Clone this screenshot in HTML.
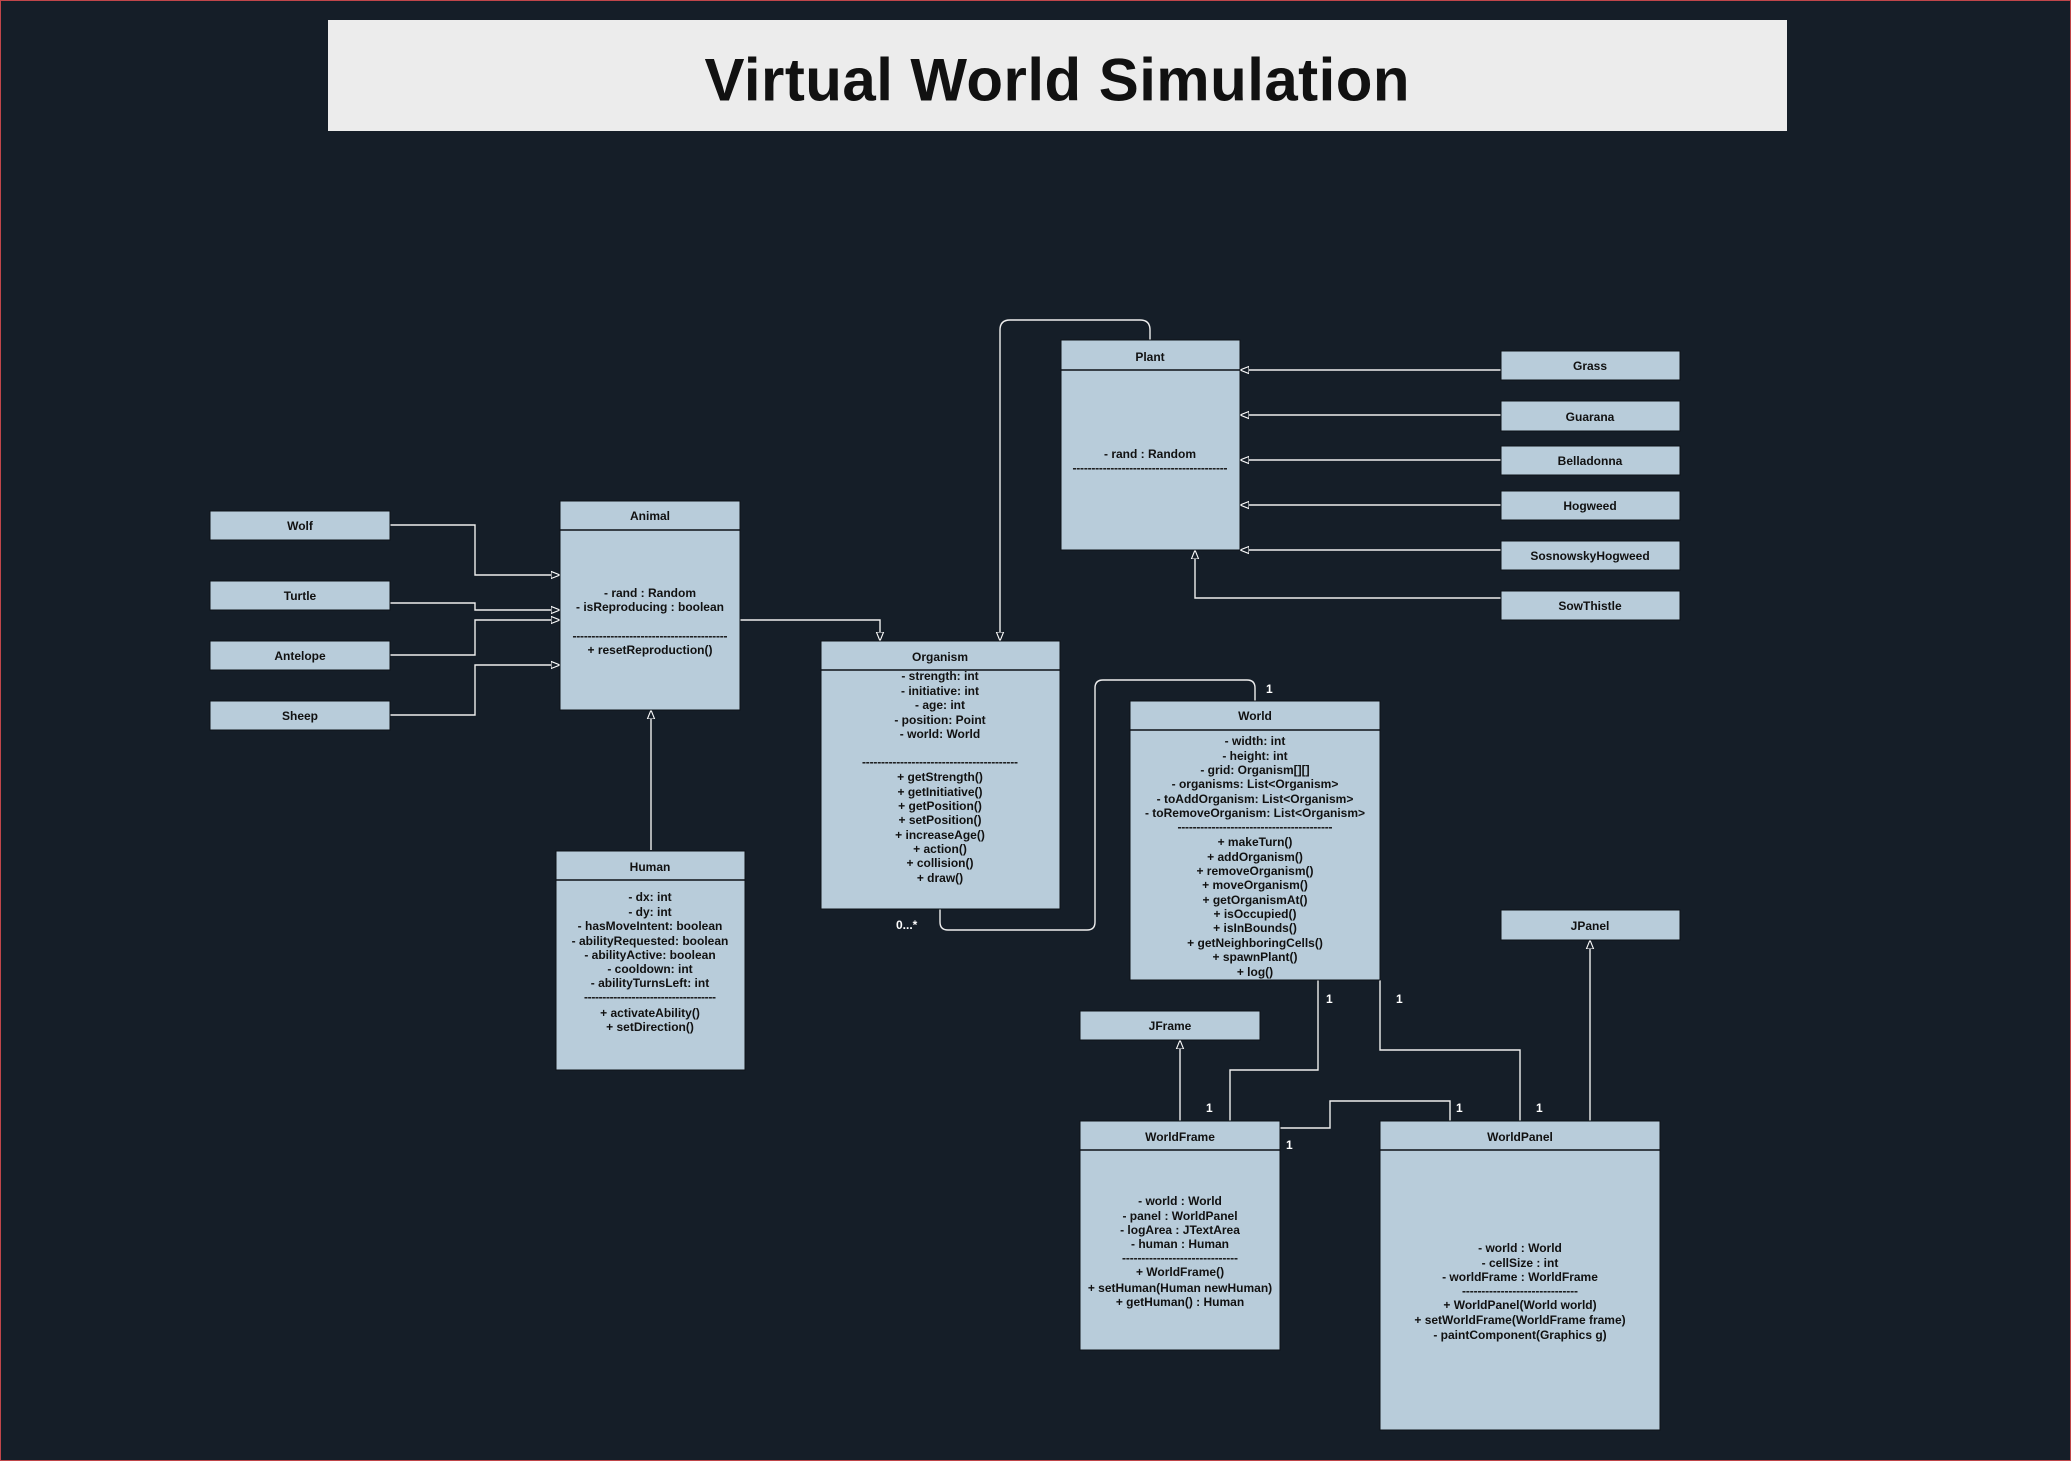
<!DOCTYPE html>
<html><head><meta charset="utf-8"><style>
html,body{margin:0;padding:0;background:#151e28;}
svg{display:block;}
text{font-family:"Liberation Sans",sans-serif;font-weight:bold;fill:#111;font-size:12px;}
</style></head><body>
<svg width="2071" height="1461" viewBox="0 0 2071 1461" xmlns="http://www.w3.org/2000/svg">
<defs>
<marker id="tri" viewBox="0 0 10 10" refX="10" refY="5" markerWidth="9" markerHeight="9" orient="auto" markerUnits="userSpaceOnUse">
<path d="M0,1 L10,5 L0,9 Z" fill="#151e28" stroke="#fff" stroke-width="1.2"/>
</marker>
</defs>
<rect x="0.5" y="0.5" width="2070" height="1460" fill="#151e28" stroke="#c0464a" stroke-width="1"/>
<rect x="328" y="20" width="1459" height="111" fill="#ececec"/>
<text x="1057" y="80" text-anchor="middle" dominant-baseline="central" style="font-size:60px;fill:#111" textLength="705">Virtual World Simulation</text>

<g fill="none" stroke="#eee" stroke-width="1.4">
<polyline points="390,525 475,525 475,575 560,575" marker-end="url(#tri)"/>
<polyline points="390,603 475,603 475,610 560,610" marker-end="url(#tri)"/>
<polyline points="390,655 475,655 475,620 560,620" marker-end="url(#tri)"/>
<polyline points="390,715 475,715 475,665 560,665" marker-end="url(#tri)"/>
<polyline points="740,620 880,620 880,641" marker-end="url(#tri)"/>
<polyline points="651,850 651,710" marker-end="url(#tri)"/>
<path d="M1150,340 L1150,330 Q1150,320 1140,320 L1010,320 Q1000,320 1000,330 L1000,641" marker-end="url(#tri)"/>
<polyline points="1501,370 1240,370" marker-end="url(#tri)"/>
<polyline points="1501,415 1240,415" marker-end="url(#tri)"/>
<polyline points="1501,460 1240,460" marker-end="url(#tri)"/>
<polyline points="1501,505 1240,505" marker-end="url(#tri)"/>
<polyline points="1501,550 1240,550" marker-end="url(#tri)"/>
<polyline points="1501,598 1195,598 1195,550" marker-end="url(#tri)"/>
<path d="M940,909 L940,922 Q940,930 948,930 L1087,930 Q1095,930 1095,922 L1095,688 Q1095,680 1103,680 L1247,680 Q1255,680 1255,688 L1255,701"/>
<polyline points="1318,980 1318,1070 1230,1070 1230,1121"/>
<polyline points="1380,980 1380,1050 1520,1050 1520,1121"/>
<polyline points="1280,1128 1330,1128 1330,1101 1450,1101 1450,1121"/>
<polyline points="1180,1121 1180,1040" marker-end="url(#tri)"/>
<polyline points="1590,1121 1590,940" marker-end="url(#tri)"/>
</g>

<g fill="#b8ccda" stroke="#0d1218" stroke-width="1">
<rect x="210" y="511" width="180" height="29"/>
<rect x="210" y="581" width="180" height="29"/>
<rect x="210" y="641" width="180" height="29"/>
<rect x="210" y="701" width="180" height="29"/>
<rect x="560" y="501" width="180" height="209"/>
<rect x="821" y="641" width="239" height="268"/>
<rect x="556" y="851" width="189" height="219"/>
<rect x="1061" y="340" width="179" height="210"/>
<rect x="1501" y="351" width="179" height="29"/>
<rect x="1501" y="401" width="179" height="30"/>
<rect x="1501" y="446" width="179" height="29"/>
<rect x="1501" y="491" width="179" height="29"/>
<rect x="1501" y="541" width="179" height="29"/>
<rect x="1501" y="591" width="179" height="29"/>
<rect x="1130" y="701" width="250" height="279"/>
<rect x="1501" y="910" width="179" height="30"/>
<rect x="1080" y="1011" width="180" height="29"/>
<rect x="1080" y="1121" width="200" height="229"/>
<rect x="1380" y="1121" width="280" height="309"/>
</g>
<g stroke="#0d1218" stroke-width="1.5">
<line x1="560" y1="530" x2="740" y2="530"/>
<line x1="821" y1="670" x2="1060" y2="670"/>
<line x1="556" y1="880" x2="745" y2="880"/>
<line x1="1061" y1="370" x2="1240" y2="370"/>
<line x1="1130" y1="730" x2="1380" y2="730"/>
<line x1="1080" y1="1150" x2="1280" y2="1150"/>
<line x1="1380" y1="1150" x2="1660" y2="1150"/>
</g>

<g text-anchor="middle" dominant-baseline="central">
<text x="300" y="526">Wolf</text>
<text x="300" y="596">Turtle</text>
<text x="300" y="656">Antelope</text>
<text x="300" y="716">Sheep</text>
<text x="650" y="516">Animal</text>
<text x="650" y="593">- rand : Random</text>
<text x="650" y="607">- isReproducing : boolean</text>
<text x="650" y="636" textLength="155">-----------------------------------------</text>
<text x="650" y="650">+ resetReproduction()</text>

<text x="940" y="657">Organism</text>
<text x="940" y="676">- strength: int</text>
<text x="940" y="691">- initiative: int</text>
<text x="940" y="705">- age: int</text>
<text x="940" y="720">- position: Point</text>
<text x="940" y="734">- world: World</text>
<text x="940" y="762" textLength="156">-----------------------------------------</text>
<text x="940" y="777">+ getStrength()</text>
<text x="940" y="792">+ getInitiative()</text>
<text x="940" y="806">+ getPosition()</text>
<text x="940" y="820">+ setPosition()</text>
<text x="940" y="835">+ increaseAge()</text>
<text x="940" y="849">+ action()</text>
<text x="940" y="863">+ collision()</text>
<text x="940" y="878">+ draw()</text>

<text x="650" y="867">Human</text>
<text x="650" y="897">- dx: int</text>
<text x="650" y="912">- dy: int</text>
<text x="650" y="926">- hasMoveIntent: boolean</text>
<text x="650" y="941">- abilityRequested: boolean</text>
<text x="650" y="955">- abilityActive: boolean</text>
<text x="650" y="969">- cooldown: int</text>
<text x="650" y="983">- abilityTurnsLeft: int</text>
<text x="650" y="997" textLength="132">------------------------------------</text>
<text x="650" y="1013">+ activateAbility()</text>
<text x="650" y="1027">+ setDirection()</text>

<text x="1150" y="357">Plant</text>
<text x="1150" y="454">- rand : Random</text>
<text x="1150" y="468" textLength="155">-----------------------------------------</text>

<text x="1590" y="366">Grass</text>
<text x="1590" y="417">Guarana</text>
<text x="1590" y="461">Belladonna</text>
<text x="1590" y="506">Hogweed</text>
<text x="1590" y="556">SosnowskyHogweed</text>
<text x="1590" y="606">SowThistle</text>
<text x="1590" y="926">JPanel</text>
<text x="1170" y="1026">JFrame</text>

<text x="1255" y="716">World</text>
<text x="1255" y="741">- width: int</text>
<text x="1255" y="756">- height: int</text>
<text x="1255" y="770">- grid: Organism[][]</text>
<text x="1255" y="784">- organisms: List&lt;Organism&gt;</text>
<text x="1255" y="799">- toAddOrganism: List&lt;Organism&gt;</text>
<text x="1255" y="813">- toRemoveOrganism: List&lt;Organism&gt;</text>
<text x="1255" y="827" textLength="155">-----------------------------------------</text>
<text x="1255" y="842">+ makeTurn()</text>
<text x="1255" y="857">+ addOrganism()</text>
<text x="1255" y="871">+ removeOrganism()</text>
<text x="1255" y="885">+ moveOrganism()</text>
<text x="1255" y="900">+ getOrganismAt()</text>
<text x="1255" y="914">+ isOccupied()</text>
<text x="1255" y="928">+ isInBounds()</text>
<text x="1255" y="943">+ getNeighboringCells()</text>
<text x="1255" y="957">+ spawnPlant()</text>
<text x="1255" y="972">+ log()</text>

<text x="1180" y="1137">WorldFrame</text>
<text x="1180" y="1201">- world : World</text>
<text x="1180" y="1216">- panel : WorldPanel</text>
<text x="1180" y="1230">- logArea : JTextArea</text>
<text x="1180" y="1244">- human : Human</text>
<text x="1180" y="1258" textLength="116">------------------------------</text>
<text x="1180" y="1272">+ WorldFrame()</text>
<text x="1180" y="1288">+ setHuman(Human newHuman)</text>
<text x="1180" y="1302">+ getHuman() : Human</text>

<text x="1520" y="1137">WorldPanel</text>
<text x="1520" y="1248">- world : World</text>
<text x="1520" y="1263">- cellSize : int</text>
<text x="1520" y="1277">- worldFrame : WorldFrame</text>
<text x="1520" y="1291" textLength="116">------------------------------</text>
<text x="1520" y="1305">+ WorldPanel(World world)</text>
<text x="1520" y="1320">+ setWorldFrame(WorldFrame frame)</text>
<text x="1520" y="1335">- paintComponent(Graphics g)</text>
</g>
<g dominant-baseline="central">
<text x="896" y="925" style="fill:#fff">0...*</text>
<text x="1266" y="689" style="fill:#fff">1</text>
<text x="1326" y="999" style="fill:#fff">1</text>
<text x="1396" y="999" style="fill:#fff">1</text>
<text x="1206" y="1108" style="fill:#fff">1</text>
<text x="1456" y="1108" style="fill:#fff">1</text>
<text x="1536" y="1108" style="fill:#fff">1</text>
<text x="1286" y="1145" style="fill:#fff">1</text>
</g>
</svg>
</body></html>
